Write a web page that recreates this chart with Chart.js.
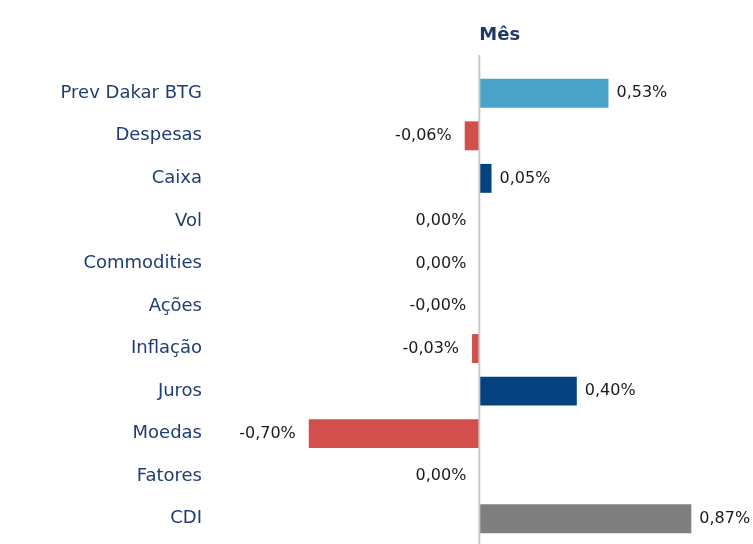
<!DOCTYPE html>
<html>
<head>
<meta charset="utf-8">
<script src="https://cdn.jsdelivr.net/npm/chart.js@4.4.1/dist/chart.umd.min.js"></script>
<style>
  html, body { margin: 0; padding: 0; background: #ffffff; }
  #wrap { width: 753px; height: 544px; position: relative; }
</style>
</head>
<body>
<div id="wrap"><canvas id="attrChart"></canvas></div>
<script>
// ── Dados ──
const categorias = ['Prev Dakar BTG', 'Despesas', 'Caixa', 'Vol', 'Commodities', 'Ações',
  'Inflação', 'Juros', 'Moedas', 'Fatores', 'CDI'];
const valoresMes = [0.53, -0.06, 0.05, 0.00, 0.00, -0.001, -0.03, 0.40, -0.70, 0.00, 0.87];
const tituloSerie = 'Mês';

// ── Cores ──
const corFundo = '#4AA3C8';
const corPositivo = '#03427E';
const corNegativo = '#D34F4E';
const corCdi = '#7F7F7F';
const corRotulo = '#1F3D73';

const cores = valoresMes.map((v, i) => {
  if (i === 0) return corFundo;
  if (categorias[i] === 'CDI') return corCdi;
  return v < 0 ? corNegativo : corPositivo;
});

const fmt = v => v.toFixed(2).replace('.', ',') + '%';

// Linha do zero, título e rótulos de valor
const labelsPlugin = {
  id: 'labelsPlugin',
  afterDatasetsDraw(chart) {
    const { ctx, scales: { x } } = chart;
    const x0 = x.getPixelForValue(0);

    ctx.save();
    ctx.strokeStyle = '#C9C9C9';
    ctx.lineWidth = 2;
    ctx.beginPath();
    ctx.moveTo(x0, 55);
    ctx.lineTo(x0, chart.height);
    ctx.stroke();

    ctx.fillStyle = '#1F3864';
    ctx.font = "bold 18px 'DejaVu Sans'";
    ctx.textAlign = 'left';
    ctx.textBaseline = 'middle';
    ctx.fillText(tituloSerie, x0, 35);

    ctx.font = "16px 'DejaVu Sans'";
    ctx.fillStyle = '#1a1a1a';
    const meta = chart.getDatasetMeta(0);
    meta.data.forEach((bar, i) => {
      const v = valoresMes[i];
      if (v > 0) {
        ctx.textAlign = 'left';
        ctx.fillText(fmt(v), bar.x + 8, bar.y);
      } else {
        ctx.textAlign = 'right';
        ctx.fillText(fmt(v), Math.min(bar.x, x0) - 13, bar.y);
      }
    });
    ctx.restore();
  }
};

new Chart(document.getElementById('attrChart'), {
  type: 'bar',
  data: {
    labels: categorias,
    datasets: [{
      label: tituloSerie,
      data: valoresMes,
      backgroundColor: cores,
      borderWidth: 0,
      categoryPercentage: 1,
      barPercentage: 0.68
    }]
  },
  options: {
    indexAxis: 'y',
    responsive: true,
    maintainAspectRatio: false,
    animation: false,
    layout: { padding: { top: 72, bottom: 4, right: 30, left: 0 } },
    scales: {
      x: {
        display: false,
        min: -1.13,
        max: 1.0
      },
      y: {
        afterFit(scale) {
          scale.width = 204;
          scale.paddingTop = 0;
          scale.paddingBottom = 0;
        },
        grid: { display: false, drawTicks: false },
        border: { display: false },
        ticks: {
          color: corRotulo,
          padding: 2,
          font: { size: 18, family: "'DejaVu Sans'" }
        }
      }
    },
    plugins: {
      legend: { display: false },
      tooltip: { enabled: false }
    }
  },
  plugins: [labelsPlugin]
});
</script>
</body>
</html>
